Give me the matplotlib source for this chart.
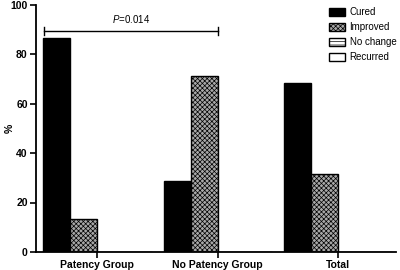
import numpy as np
import matplotlib.pyplot as plt

groups = ['Patency Group', 'No Patency Group', 'Total']
outcomes = ['Cured', 'Improved', 'No change', 'Recurred']
cured = [86.7, 28.6, 68.3]
improved = [13.3, 71.4, 31.7]
no_change = [0, 0, 0]
recurred = [0, 0, 0]
p_label = '$P$=0.014'
p_height = 89.5

plt.rcParams['font.family'] = ['Liberation Sans', 'DejaVu Sans']
plt.rcParams['mathtext.fontset'] = 'custom'
plt.rcParams['mathtext.it'] = 'Liberation Sans:italic'
plt.rcParams['hatch.linewidth'] = 0.5
fig = plt.figure(figsize=(4, 2.7), dpi=100)
ax = fig.add_axes([0.09, 0.067, 0.9, 0.915])

x = np.arange(len(groups))
w = 0.225
series = [cured, improved, no_change, recurred]
styles = [dict(color='black'),
          dict(facecolor='#a8a8a8', hatch='xxxxxxx'),
          dict(facecolor='white', hatch='-----'),
          dict(facecolor='white')]
for i, (vals, st) in enumerate(zip(series, styles)):
    ax.bar(x + (i - 1.5) * w, vals, w, align='center', edgecolor='black',
           linewidth=1.0, label=outcomes[i], **st)

ax.set_xlim(-0.51, 2.48)
ax.set_ylim(0, 100)
ax.set_yticks([0, 20, 40, 60, 80, 100])
ax.set_xticks(x)
ax.set_xticklabels(groups, fontweight='bold', fontsize=7.5)
for lab in ax.get_yticklabels():
    lab.set_fontweight('bold')
    lab.set_fontsize(7.5)
ax.set_ylabel('%', fontsize=7.5, fontweight='bold')
ax.yaxis.set_label_coords(-0.06, 0.5)
for s in ['top', 'right']:
    ax.spines[s].set_visible(False)
for s in ['left', 'bottom']:
    ax.spines[s].set_linewidth(1.3)
ax.tick_params(width=1.2, length=4, pad=2)

# significance bracket
x0, x1 = x[0] - 2 * w + 0.01, x[1]
ax.plot([x0, x1], [p_height, p_height], color='black', lw=1)
ax.plot([x0, x0], [p_height - 1.5, p_height + 1.5], color='black', lw=1)
ax.plot([x1, x1], [p_height - 1.5, p_height + 1.5], color='black', lw=1)
ax.text(0.28, 91.8, p_label, ha='center', va='bottom', fontsize=7)

ax.legend(loc='upper right', bbox_to_anchor=(1.025, 1.025), frameon=False,
          fontsize=7, handlelength=1.6, handleheight=0.9, labelspacing=0.5,
          handletextpad=0.5)

plt.savefig('out.png')
